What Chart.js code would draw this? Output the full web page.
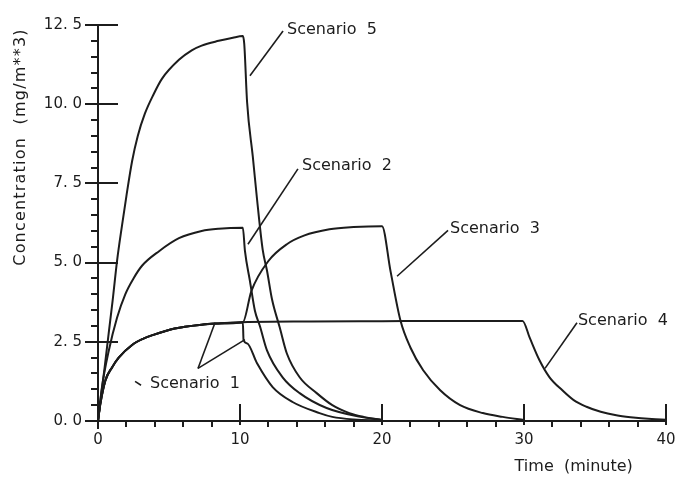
<!DOCTYPE html>
<html>
<head>
<meta charset="utf-8">
<script src="https://cdn.jsdelivr.net/npm/chart.js@4.4.1/dist/chart.umd.min.js"></script>
<style>
html,body{margin:0;padding:0;background:#fff;}
#wrap{width:686px;height:489px;position:relative;}
</style>
</head>
<body>
<div id="wrap"><canvas id="chartConc"></canvas></div>
<script>
//=====================================================
// DATA  (time in minutes, concentration in mg/m**3)
//=====================================================

const s1T=[0,0.15,0.52,1.0,1.46,2.4,3.2,3.9,5.4,7.3,8.5,10.2,10.25,10.5,11.2,12.3,13.7,15.6,16.5,18,20];
const s1C=[0,0.5,1.28,1.7,2.0,2.4,2.6,2.72,2.92,3.04,3.08,3.12,2.55,2.45,1.82,1.07,0.6,0.25,0.13,0.05,0.02];

const s2T=[0,0.28,0.75,1.34,1.92,2.5,3.1,4.3,5.7,7.3,8.5,10.2,10.35,10.7,11.05,11.4,11.9,13.0,14.2,16.1,18.5,20];
const s2C=[0,1.07,2.2,3.26,4.0,4.5,4.9,5.36,5.77,6.0,6.07,6.1,5.36,4.42,3.48,3.0,2.23,1.38,0.88,0.41,0.13,0.03];

const s3T=[0,0.15,0.52,1.0,1.46,2.4,3.2,3.9,5.4,7.3,8.5,10.2,10.8,12.0,13.3,14.5,16.3,18.0,20.0,20.6,21.3,22.0,22.9,24.1,25.5,27.1,28.5,30];
const s3C=[0,0.5,1.28,1.7,2.0,2.4,2.6,2.72,2.92,3.04,3.08,3.12,4.1,5.05,5.58,5.85,6.05,6.12,6.15,4.73,3.17,2.32,1.6,0.97,0.5,0.25,0.13,0.03];

const s4T=[0,0.15,0.52,1.0,1.46,2.4,3.2,3.9,5.4,7.3,8.5,10.2,15,20,25,29.9,30.4,31.1,31.8,32.7,33.5,34.4,35.4,36.5,37.5,39,40];
const s4C=[0,0.5,1.28,1.7,2.0,2.4,2.6,2.72,2.92,3.04,3.08,3.12,3.14,3.15,3.16,3.16,2.63,1.91,1.38,0.97,0.66,0.45,0.29,0.18,0.12,0.06,0.04];

const s5T=[0,0.2,0.47,0.75,1.03,1.34,1.7,2.0,2.4,2.8,3.3,3.9,4.5,5.7,6.6,7.3,8.5,9.5,10.2,10.3,10.5,10.9,11.2,11.6,11.9,12.25,12.8,13.3,14.2,15.4,16.5,17.7,18.7,20];
const s5C=[0,0.75,1.7,2.76,3.8,5.05,6.2,7.1,8.2,9.0,9.7,10.3,10.8,11.4,11.7,11.85,12.0,12.1,12.15,11.9,10.06,8.35,7.0,5.4,4.75,3.85,2.95,2.13,1.38,0.88,0.5,0.25,0.13,0.03];

const scenarioNames=["Scenario  1","Scenario  2","Scenario  3","Scenario  4","Scenario  5"];

const xMajorTicks=[0,10,20,30,40];
const yMajorTicks=[0,2.5,5,7.5,10,12.5];
const xMinorStep=2;
const yMinorStep=0.5;

const xTitle="Time  (minute)";
const yTitle="Concentration  (mg/m**3)";

//=====================================================
// STYLE
//=====================================================

const ink="#1c1c1c";
const fontFam="'DejaVu Sans', sans-serif";

function pts(t,c){return t.map((v,i)=>({x:v,y:c[i]}));}

function serie(label,t,c){
return{
label:label,
data:pts(t,c),
borderColor:ink,
borderWidth:2,
pointRadius:0,
fill:false,
cubicInterpolationMode:"monotone"
};
}

//=====================================================
// ANNOTATIONS (labels + pointer lines, in data units)
//=====================================================

const notes=[
{text:scenarioNames[4],at:[13.31,12.34],lines:[[[13.03,12.31],[10.70,10.90]]]},
{text:scenarioNames[1],at:[14.37,8.05],lines:[[[14.08,7.96],[10.56,5.58]]]},
{text:scenarioNames[2],at:[24.79,6.08],lines:[[[24.65,6.02],[21.06,4.57]]]},
{text:scenarioNames[3],at:[33.80,3.16],lines:[[[33.73,3.10],[31.48,1.66]]]},
{text:scenarioNames[0],at:[3.66,1.16],lines:[[[7.04,1.66],[8.24,3.10]],[[7.04,1.66],[10.35,2.57]],[[2.61,1.25],[3.03,1.13]]]}
];

const decor={
id:"decor",
afterDraw(chart){
const {ctx,scales:{x,y}}=chart;
const L=x.getPixelForValue(0),B=y.getPixelForValue(0);
ctx.save();
ctx.strokeStyle=ink;
ctx.fillStyle=ink;
ctx.lineWidth=2;
ctx.lineCap="butt";

// y ticks
for(let v=0;v<=12.5+1e-9;v+=yMinorStep){
const py=Math.round(y.getPixelForValue(v));
const major=yMajorTicks.some(m=>Math.abs(m-v)<1e-6);
ctx.beginPath();
if(major){ctx.moveTo(L-13,py);ctx.lineTo(L+20,py);}
else{ctx.moveTo(L-7,py);ctx.lineTo(L,py);}
ctx.stroke();
}

// x ticks
for(let v=0;v<=40+1e-9;v+=xMinorStep){
const px=Math.round(x.getPixelForValue(v));
const major=xMajorTicks.some(m=>Math.abs(m-v)<1e-6);
ctx.beginPath();
if(v===0){ctx.moveTo(px,B);ctx.lineTo(px,B+8);}
else if(major){ctx.moveTo(px,B-17);ctx.lineTo(px,B+4);}
else{ctx.moveTo(px,B);ctx.lineTo(px,B+6);}
ctx.stroke();
}

// scenario labels
ctx.lineWidth=1.6;
ctx.font="16px "+fontFam;
ctx.textBaseline="middle";
ctx.textAlign="left";
notes.forEach(n=>{
ctx.fillText(n.text,x.getPixelForValue(n.at[0]),y.getPixelForValue(n.at[1]));
n.lines.forEach(seg=>{
ctx.beginPath();
ctx.moveTo(x.getPixelForValue(seg[0][0]),y.getPixelForValue(seg[0][1]));
ctx.lineTo(x.getPixelForValue(seg[1][0]),y.getPixelForValue(seg[1][1]));
ctx.stroke();
});
});

// axis titles
ctx.font="16px "+fontFam;
ctx.textAlign="center";
ctx.fillText(xTitle,x.getPixelForValue(33.5),B+46);
ctx.translate(21,y.getPixelForValue(8.65));
ctx.rotate(-Math.PI/2);
ctx.letterSpacing="1.2px";
ctx.fillText(yTitle,0,0);
ctx.restore();
}
};

//=====================================================
// CHART
//=====================================================

new Chart(document.getElementById("chartConc"),{
type:"line",
data:{
datasets:[
serie(scenarioNames[0],s1T,s1C),
serie(scenarioNames[1],s2T,s2C),
serie(scenarioNames[2],s3T,s3C),
serie(scenarioNames[3],s4T,s4C),
serie(scenarioNames[4],s5T,s5C)
]
},
options:{
responsive:true,
maintainAspectRatio:false,
animation:false,
layout:{padding:{top:22,right:20,left:0,bottom:0}},
plugins:{legend:{display:false},tooltip:{enabled:false}},
scales:{
x:{
type:"linear",
min:0,max:40,
afterFit(s){s.height=68;},
grid:{display:false,drawTicks:false},
border:{display:true,color:ink,width:2},
afterBuildTicks(s){s.ticks=xMajorTicks.map(v=>({value:v}));},
ticks:{
color:ink,
padding:10,
maxRotation:0,
font:{family:fontFam,size:15},
callback:v=>String(v)
}
},
y:{
min:0,max:12.5,
afterFit(s){s.width=98;},
grid:{display:false,drawTicks:false},
border:{display:true,color:ink,width:2},
afterBuildTicks(s){s.ticks=yMajorTicks.map(v=>({value:v}));},
ticks:{
color:ink,
padding:16,
font:{family:fontFam,size:15},
callback:v=>v.toFixed(1).replace(".",". ")
}
}
}
},
plugins:[decor]
});
</script>
</body>
</html>
